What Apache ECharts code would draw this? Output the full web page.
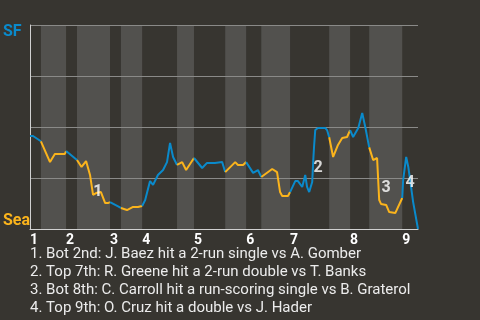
<!DOCTYPE html>
<html>
<head>
<meta charset="utf-8">
<script src="https://cdn.jsdelivr.net/npm/echarts@6/dist/echarts.min.js"></script>
<style>html,body{margin:0;padding:0;background:#373530;}#c{width:480px;height:320px;}</style>
</head>
<body>
<div id="c"></div>
<script>
// Game progress (play units) where each half-inning begins/ends
const halfBounds = [0, 3.6, 11.9, 15.5, 26.4, 30, 37, 48.5, 54.1, 64.4, 71.3, 76.3, 85.8, 98.7, 105.6, 111.9, 122.8, 128];
const inningLabels = ['1','2','3','4','5','6','7','8','9'];
// [progress, SF win probability]
const winProb = [
  [0,0.456],[1,0.456],[3.6,0.43],
  [6.6,0.328],[8.2,0.368],[11.5,0.368],[11.9,0.382],
  [15.5,0.338],
  [17,0.304],[18.5,0.333],[19.8,0.265],[20.8,0.167],[21.8,0.176],[23.4,0.181],[24.8,0.127],[25.7,0.127],[26.4,0.132],
  [30,0.103],
  [32,0.093],[34,0.108],[35.6,0.108],[37,0.113],
  [38,0.142],[39.6,0.235],[40.6,0.216],[42.2,0.265],[43.9,0.289],[45.2,0.328],[46.2,0.422],[47.2,0.353],[48.5,0.314],
  [50.2,0.328],[51.5,0.289],[54.1,0.348],
  [56.8,0.299],[58.4,0.324],[61,0.324],[63.4,0.328],[64.4,0.279],
  [67.7,0.328],[68.6,0.314],[70.3,0.314],[71.3,0.328],
  [73.6,0.275],[75.2,0.289],[76.3,0.255],
  [79.9,0.294],[81.5,0.279],[82.5,0.181],[83.2,0.162],[85.1,0.162],[85.8,0.181],
  [87.5,0.235],[88.4,0.235],[89.8,0.206],[90.8,0.265],[91.4,0.206],[92.1,0.181],[93.1,0.23],[93.4,0.324],[93.7,0.402],[94.1,0.485],[95,0.495],[97.4,0.495],[98,0.485],[98.7,0.45],
  [100,0.353],[101.6,0.412],[103,0.446],[104.6,0.451],[105.6,0.485],
  [106.6,0.451],[108.3,0.495],[109.6,0.569],[110.6,0.5],[111.9,0.4],
  [113.2,0.338],[114.5,0.348],[115.2,0.142],[115.8,0.123],[117.5,0.118],[118.5,0.083],[120.5,0.078],[122.8,0.152],
  [123.1,0.24],[124.1,0.353],[124.8,0.304],[126.4,0.132],[128,0]
];
// Key-play markers: [progress, prob, label]
const keyPlays = [[22.4,0.181,'1'],[95,0.299,'2'],[117.5,0.201,'3'],[125.4,0.225,'4']];
const notes = [
  '1. Bot 2nd: J. Baez hit a 2-run single vs A. Gomber',
  '2. Top 7th: R. Greene hit a 2-run double vs T. Banks',
  '3. Bot 8th: C. Carroll hit a run-scoring single vs B. Graterol',
  '4. Top 9th: O. Cruz hit a double vs J. Hader'
];
const teams = ['SF','Sea'];

const BLUE = '#0a8acb', ORANGE = '#fbb41c';
const inningStarts = halfBounds.filter((v,i)=> i%2===0 && i<halfBounds.length-1);
const bands = [];
const lineSeries = [];
for (let i=0;i<halfBounds.length-1;i++){
  const a=halfBounds[i], b=halfBounds[i+1];
  if (i%2===1) bands.push([{xAxis:a},{xAxis:b}]);
  lineSeries.push({
    type:'line', data: winProb.filter(d=>d[0]>=a-1e-9 && d[0]<=b+1e-9),
    showSymbol:false, symbol:'none', silent:true, z:5,
    lineStyle:{width:2, color: i%2===0?BLUE:ORANGE}
  });
}

const chart = echarts.init(document.getElementById('c'), null, {renderer:'canvas'});
chart.setOption({
  backgroundColor:'#373530',
  animation:false,
  title:{
    text: notes.join('\n'), left:30, top:245, padding:0,
    textStyle:{color:'#ececec', fontSize:15, fontWeight:'normal', fontFamily:'Roboto', lineHeight:18}
  },
  graphic:[
    {type:'text', left:3, top:24, style:{text:teams[0], fill:BLUE, font:'bold 16px Roboto'}},
    {type:'text', left:3, top:213, style:{text:teams[1], fill:ORANGE, font:'bold 16px Roboto'}}
  ],
  grid:{left:30, right:62, top:25, bottom:91},
  xAxis:{
    type:'value', min:0, max:128, z:3,
    splitLine:{show:false},
    axisTick:{show:false},
    axisLine:{show:true, lineStyle:{color:'#d0d0d0', width:1}},
    axisLabel:{
      customValues: inningStarts,
      formatter:(v)=>{const i=inningStarts.findIndex(s=>Math.abs(s-v)<1e-6); return i>=0?inningLabels[i]:'';},
      align:'left', margin:4, color:'#ffffff', fontSize:14, fontWeight:'bold', fontFamily:'Roboto'
    }
  },
  yAxis:{
    type:'value', min:0, max:1, interval:0.25, z:3,
    axisLabel:{show:false}, axisTick:{show:false},
    axisLine:{show:true, lineStyle:{color:'#d0d0d0'}},
    splitLine:{show:true, lineStyle:{color:'#8a8a88', width:1}}
  },
  series:[
    {type:'line', data:[], z:0, silent:true,
     markArea:{silent:true, z:0, itemStyle:{color:'#52514e'}, data:bands}}
  ].concat(lineSeries, [
    {type:'scatter', data:keyPlays, symbolSize:0, z:6,
     label:{show:true, position:'inside', formatter:(p)=>p.data[2], color:'#ffffff', fontSize:16, fontWeight:'bold', fontFamily:'Roboto'}}
  ])
});
</script>
</body>
</html>
